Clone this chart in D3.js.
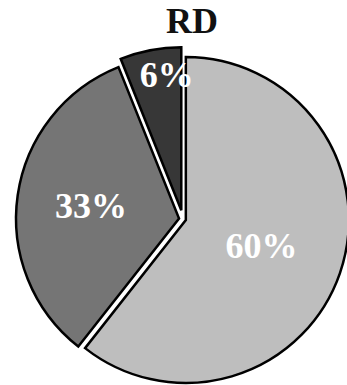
<!DOCTYPE html>
<html>
<head>
<meta charset="utf-8">
<script src="https://cdn.jsdelivr.net/npm/d3@7"></script>
<style>
  html, body { margin: 0; padding: 0; background: #fff; }
  svg { display: block; }
</style>
</head>
<body>
<svg id="chart" width="347" height="385"></svg>
<script>
// Data
const title = "RD";
const categories = ["A", "B", "C"];
const values = [60, 33, 6];
const labels = ["60%", "33%", "6%"];

// Styling per slice (order follows categories)
const fills = ["#bebebe", "#757575", "#373737"];
const explode = [3, 4, 9];          // outward offset of each slice, px
const labelRadius = [80, 91, 135];  // distance of each label from the slice apex, px
const labelNudge = [[0, 0], [2, 0], [11, -3]]; // small extra label shifts, px

const cx = 183, cy = 219, R = 163;

const svg = d3.select("#chart");

svg.append("text")
  .attr("x", 192)
  .attr("y", 33)
  .attr("text-anchor", "middle")
  .attr("font-family", "'Liberation Serif', 'Times New Roman', serif")
  .attr("font-weight", "bold")
  .attr("font-size", 36)
  .attr("fill", "#111")
  .text(title);

const pie = d3.pie().sort(null).value(d => d)(values);
const arc = d3.arc().innerRadius(0).outerRadius(R);

const g = svg.append("g").attr("transform", `translate(${cx},${cy})`);

function offset(d, dist) {
  const a = (d.startAngle + d.endAngle) / 2;
  return [Math.sin(a) * dist, -Math.cos(a) * dist];
}

g.selectAll("path.slice")
  .data(pie)
  .join("path")
  .attr("class", "slice")
  .attr("d", arc)
  .attr("transform", (d, i) => {
    const [x, y] = offset(d, explode[i]);
    return `translate(${x},${y})`;
  })
  .attr("fill", (d, i) => fills[i])
  .attr("stroke", "#000")
  .attr("stroke-width", 2.5)
  .attr("stroke-linejoin", "miter");

g.selectAll("text.lbl")
  .data(pie)
  .join("text")
  .attr("class", "lbl")
  .attr("x", (d, i) => offset(d, explode[i] + labelRadius[i])[0] + labelNudge[i][0])
  .attr("y", (d, i) => offset(d, explode[i] + labelRadius[i])[1] + labelNudge[i][1])
  .attr("dy", "0.34em")
  .attr("text-anchor", "middle")
  .attr("font-family", "'Liberation Serif', 'Times New Roman', serif")
  .attr("font-weight", "bold")
  .attr("font-size", 36)
  .attr("fill", "#fff")
  .text((d, i) => labels[i]);
</script>
</body>
</html>
